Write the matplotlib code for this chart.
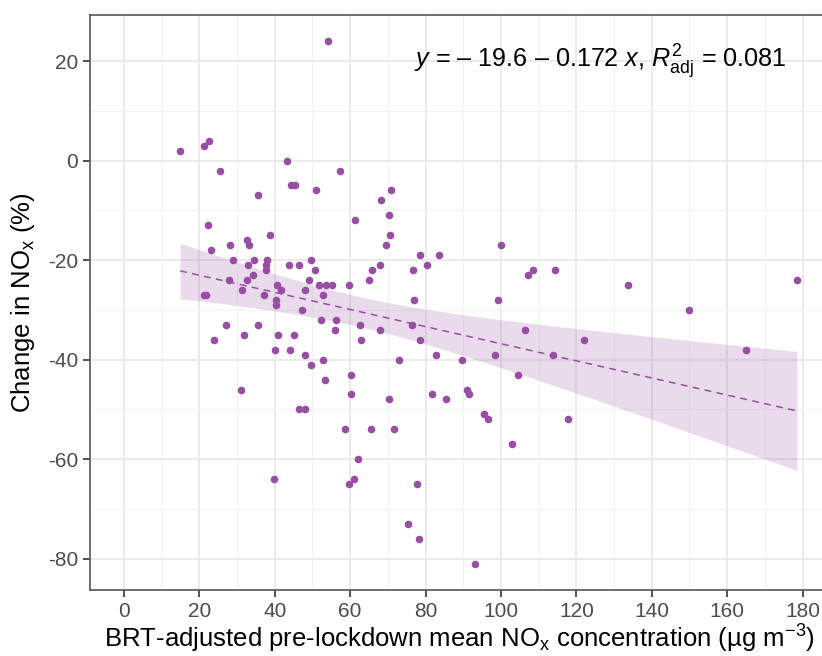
import numpy as np
import matplotlib
matplotlib.use("Agg")
import matplotlib.pyplot as plt
from matplotlib.ticker import MultipleLocator

plt.rcParams['font.family'] = ['Liberation Sans', 'DejaVu Sans']
plt.rcParams['mathtext.fontset'] = 'custom'
plt.rcParams['mathtext.rm'] = 'Liberation Sans'
plt.rcParams['mathtext.it'] = 'Liberation Sans:italic'
plt.rcParams['axes.unicode_minus'] = False

# pre-lockdown NOx (ug m-3) and change in NOx (%) per site
nox_pre = [54.1, 14.9, 21.2, 22.5, 25.6, 43.2, 35.6, 44.2, 45.3, 51.0,
           57.4, 70.8, 68.1, 70.4, 61.2, 22.2, 23.2, 28.1, 29.0, 27.8,
           21.2, 21.8, 32.6, 33.1, 34.4, 32.9, 34.3, 32.6, 31.2, 38.7,
           38.0, 37.7, 37.6, 37.1, 40.5, 41.6, 40.2, 40.3, 43.8, 46.3,
           49.5, 50.8, 49.1, 48.0, 47.1, 51.6, 53.5, 55.3, 52.7, 59.7,
           70.5, 69.6, 67.9, 65.8, 65.0, 52.3, 56.3, 56.0, 62.5, 62.9,
           68.0, 72.9, 27.0, 23.8, 31.8, 35.6, 40.9, 45.1, 40.1, 44.0,
           48.0, 49.6, 52.7, 53.2, 60.1, 60.3, 70.2, 31.0, 46.3, 47.9,
           58.7, 65.5, 71.5, 62.0, 39.7, 61.0, 59.7, 78.5, 83.5, 80.4,
           76.6, 100.0, 107.2, 108.6, 114.4, 133.7, 76.8, 99.1, 76.5, 106.5,
           78.5, 82.7, 89.7, 98.5, 122.0, 113.9, 104.6, 81.7, 85.5, 90.9,
           91.6, 95.5, 96.6, 117.8, 102.8, 77.8, 75.3, 78.3, 93.2, 149.8,
           165.0, 178.5]
nox_change = [24, 2, 3, 4, -2, 0, -7, -5, -5, -6,
              -2, -6, -8, -11, -12, -13, -18, -17, -20, -24,
              -27, -27, -16, -17, -20, -21, -23, -24, -26, -15,
              -20, -21, -22, -27, -25, -26, -28, -29, -21, -21,
              -20, -22, -24, -26, -30, -25, -25, -25, -27, -25,
              -15, -17, -21, -22, -24, -32, -32, -34, -33, -36,
              -34, -40, -33, -36, -35, -33, -35, -35, -38, -38,
              -39, -41, -40, -44, -43, -47, -48, -46, -50, -50,
              -54, -54, -54, -60, -64, -64, -65, -19, -19, -21,
              -22, -17, -23, -22, -22, -25, -28, -28, -33, -34,
              -36, -39, -40, -39, -36, -39, -43, -47, -48, -46,
              -47, -51, -52, -52, -57, -65, -73, -76, -81, -30,
              -38, -24]

# fitted model as reported
intercept = -19.6
slope = -0.172
r2_adj = 0.081
T975 = 1.98

purple = '#984ea3'

x = np.array(nox_pre)
y = np.array(nox_change)
n = len(x)
resid = y - (intercept + slope * x)
s = np.sqrt(np.sum(resid ** 2) / (n - 2))
sxx = np.sum((x - x.mean()) ** 2)
xs = np.linspace(x.min(), x.max(), 80)
fit = intercept + slope * xs
half = T975 * s * np.sqrt(1.0 / n + (xs - x.mean()) ** 2 / sxx)

fig = plt.figure(figsize=(8.22, 6.56), dpi=100)
ax = fig.add_axes([0.110, 0.1009, 0.898, 0.8762])

ax.scatter(x, y, s=30, color=purple, linewidths=0, zorder=3)
ax.fill_between(xs, fit - half, fit + half, color=purple, alpha=0.2,
                linewidth=0, zorder=2)
ax.plot(xs, fit, color=purple, lw=1.1, ls=(0, (4.5, 3.5)), zorder=4)

ax.set_xlim(-8.9, 186.9)
ax.set_ylim(-86.25, 29.25)
ax.xaxis.set_major_locator(MultipleLocator(20))
ax.xaxis.set_minor_locator(MultipleLocator(10))
ax.yaxis.set_major_locator(MultipleLocator(20))
ax.yaxis.set_minor_locator(MultipleLocator(10))
ax.grid(which='major', color='#ebebeb', lw=1.4, zorder=0)
ax.grid(which='minor', color='#f2f2f2', lw=0.8, zorder=0)
ax.set_axisbelow(True)
ax.tick_params(which='major', length=5, width=1.2, color='#333333',
               labelcolor='#4d4d4d', labelsize=15, pad=4)
ax.tick_params(which='minor', length=0)
for sp in ax.spines.values():
    sp.set_color('#555555')
    sp.set_linewidth(1.2)

ax.set_xlabel(r'BRT-adjusted pre-lockdown mean NO$_\mathregular{x}$ concentration (µg m$^{-3}$)',
              fontsize=18.5, labelpad=1)
ax.set_ylabel(r'Change in NO$_\mathregular{x}$ (%)', fontsize=18.5, labelpad=8)

ax.text(77.0, 18.6,
        r'$y$ = – 19.6 – 0.172 $x$, $R^2_{\mathregular{adj}}$ = %.3f' % r2_adj,
        fontsize=18.2, ha='left', va='baseline', zorder=5)

fig.savefig('out.png', dpi=100)
